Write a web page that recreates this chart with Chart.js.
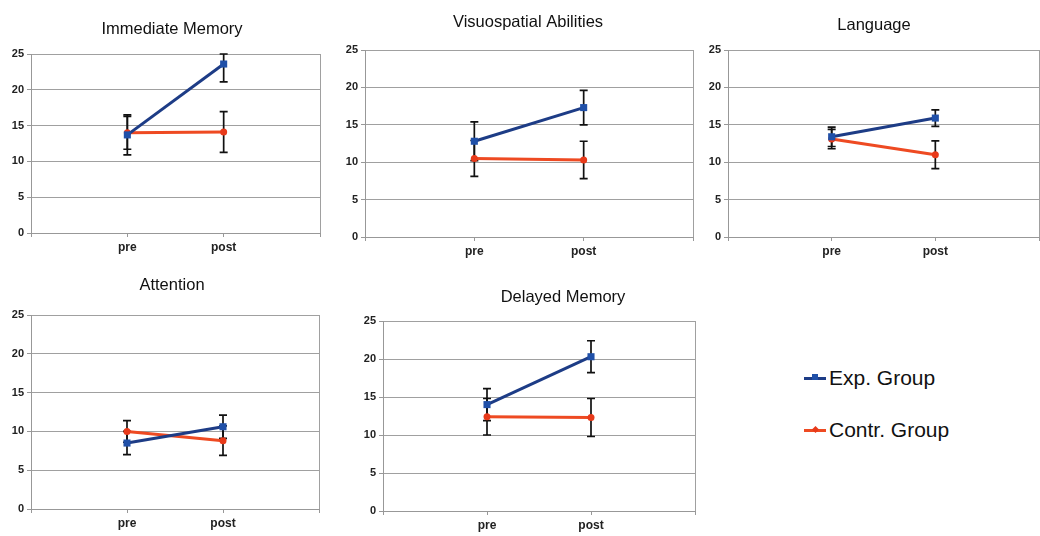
<!DOCTYPE html>
<html><head><meta charset="utf-8">
<script src="https://cdn.jsdelivr.net/npm/chart.js@4/dist/chart.umd.min.js"></script>
<style>
html,body{margin:0;padding:0;background:#fff;}
body{width:1040px;height:536px;position:relative;overflow:hidden;font-family:"Liberation Sans",Arial,sans-serif;}
canvas{position:absolute;}
.leg{position:absolute;left:804px;height:26px;line-height:26px;font-size:21px;color:#111;white-space:nowrap;}
.sw{display:inline-block;position:relative;width:22px;height:3px;vertical-align:middle;margin-right:3px;top:-1px;}
.mk{position:absolute;left:8px;top:-2px;width:6px;height:6px;}
</style>
</head><body>
<div class="leg" style="top:365px;"><span class="sw" style="background:#1d3c86"><span class="mk" style="background:#2050a8;top:-3px;"></span></span>Exp. Group</div>
<div class="leg" style="top:417px;"><span class="sw" style="background:#ee4a22"><span class="mk" style="background:#e83a1a;width:5px;height:5px;left:9px;transform:rotate(45deg);"></span></span>Contr. Group</div>
<script>
// ---- data ----
const categories = ['', 'pre', 'post', ''];
const panelTitles = ['Immediate Memory', 'Visuospatial Abilities', 'Language', 'Attention', 'Delayed Memory'];
const seriesNames = ['Exp. Group', 'Contr. Group'];
const expMeans = [[13.7, 23.6], [12.8, 17.3], [13.4, 15.9], [8.5, 10.6], [14.0, 20.3]];
const expErrors = [[2.8, 2.5], [2.6, 2.3], [1.3, 1.1], [1.5, 1.5], [2.1, 2.1]];
const ctrMeans = [[14.0, 14.1], [10.5, 10.3], [13.1, 11.0], [10.0, 8.8], [12.4, 12.3]];
const ctrErrors = [[2.3, 2.85], [2.4, 2.5], [1.3, 1.85], [1.4, 1.9], [2.4, 2.5]];
const yTicks = [0, 5, 10, 15, 20, 25];

// ---- layout (plot rectangles, title offsets) ----
const plotBoxes = [
  {l: 31, t: 54, r: 320, b: 233, dx: -3.5, dy: 25},
  {l: 365, t: 50, r: 693, b: 237, dx: -1, dy: 28},
  {l: 728, t: 50, r: 1039, b: 237, dx: -9.5, dy: 25},
  {l: 31, t: 315, r: 319, b: 509, dx: -3, dy: 30},
  {l: 383, t: 321, r: 695, b: 511, dx: 24, dy: 24}
];
const EXP_COLOR = '#1d3c86', EXP_POINT = '#2050a8';
const CTR_COLOR = '#ee4a22', CTR_POINT = '#e83a1a';
const GRID = '#a0a0a0', AXIS = '#989898';
const FONT = '"Liberation Sans", Arial, sans-serif';

const errorBars = {
  id: 'errorBars',
  beforeDatasetsDraw(chart) {
    const ctx = chart.ctx, ys = chart.scales.y;
    ctx.save();
    ctx.strokeStyle = '#111';
    ctx.lineWidth = 1.7;
    chart.data.datasets.forEach((ds, di) => {
      const meta = chart.getDatasetMeta(di);
      ds.data.forEach((v, i) => {
        if (v === null || !ds.errors || ds.errors[i] == null) return;
        const e = ds.errors[i];
        const x = meta.data[i].x;
        const yt = ys.getPixelForValue(Math.min(v + e, ys.max));
        const yb = ys.getPixelForValue(Math.max(v - e, ys.min));
        ctx.beginPath();
        ctx.moveTo(x, yt); ctx.lineTo(x, yb);
        ctx.moveTo(x - 4, yt); ctx.lineTo(x + 4, yt);
        ctx.moveTo(x - 4, yb); ctx.lineTo(x + 4, yb);
        ctx.stroke();
      });
    });
    ctx.restore();
  }
};

const panelTitle = {
  id: 'panelTitle',
  afterDraw(chart, args, opts) {
    const a = chart.chartArea, ctx = chart.ctx;
    ctx.save();
    ctx.font = '16.5px ' + FONT;
    ctx.fillStyle = '#111';
    ctx.textAlign = 'center';
    ctx.textBaseline = 'middle';
    ctx.fillText(opts.text, (a.left + a.right) / 2 + opts.dx, a.top - opts.dy);
    ctx.restore();
  }
};

function pad(arr) { return [null, arr[0], arr[1], null]; }

panelTitles.forEach((title, p) => {
  const bx = plotBoxes[p];
  const left = bx.l - 30, top = bx.t - 40;
  const w = bx.r + 5 - left, h = bx.b + 30 - top;
  const cv = document.createElement('canvas');
  cv.style.left = left + 'px'; cv.style.top = top + 'px';
  cv.style.width = w + 'px'; cv.style.height = h + 'px';
  cv.width = w; cv.height = h;
  document.body.appendChild(cv);
  new Chart(cv, {
    type: 'line',
    data: {
      labels: categories,
      datasets: [
        {label: seriesNames[0], data: pad(expMeans[p]), errors: pad(expErrors[p]),
         borderColor: EXP_COLOR, backgroundColor: EXP_POINT, borderWidth: 3,
         pointStyle: 'rect', pointRadius: 5, pointBorderWidth: 0, pointBackgroundColor: EXP_POINT},
        {label: seriesNames[1], data: pad(ctrMeans[p]), errors: pad(ctrErrors[p]),
         borderColor: CTR_COLOR, backgroundColor: CTR_POINT, borderWidth: 3,
         pointStyle: 'circle', pointRadius: 3.5, pointBorderWidth: 0, pointBackgroundColor: CTR_POINT}
      ]
    },
    options: {
      responsive: false, animation: false, devicePixelRatio: 1,
      spanGaps: false,
      layout: {padding: {left: 0, top: 40, right: 2, bottom: 0}},
      plugins: {legend: {display: false}, tooltip: {enabled: false}, title: {display: false},
                panelTitle: {text: title, dx: bx.dx, dy: bx.dy}},
      scales: {
        x: {
          type: 'category', offset: false,
          afterFit(s) { s.height = 30; },
          border: {color: AXIS, width: 1},
          grid: {drawOnChartArea: true, drawTicks: true, tickLength: 4, tickColor: AXIS,
                 color: c => c.index === categories.length - 1 ? GRID : 'rgba(0,0,0,0)'},
          ticks: {autoSkip: false, maxRotation: 0, padding: 3, color: '#222',
                  font: {family: FONT, size: 12, weight: 'bold'}}
        },
        y: {
          min: 0, max: 25,
          afterFit(s) { s.width = 30; },
          afterBuildTicks(s) { s.ticks = yTicks.map(v => ({value: v})); },
          border: {color: AXIS, width: 1},
          grid: {color: GRID, lineWidth: 1, drawTicks: true, tickLength: 4, tickColor: AXIS},
          ticks: {padding: 3, color: '#222',
                  font: {family: FONT, size: 11, weight: 'bold'}}
        }
      }
    },
    plugins: [errorBars, panelTitle]
  });
});
</script>
</body></html>
